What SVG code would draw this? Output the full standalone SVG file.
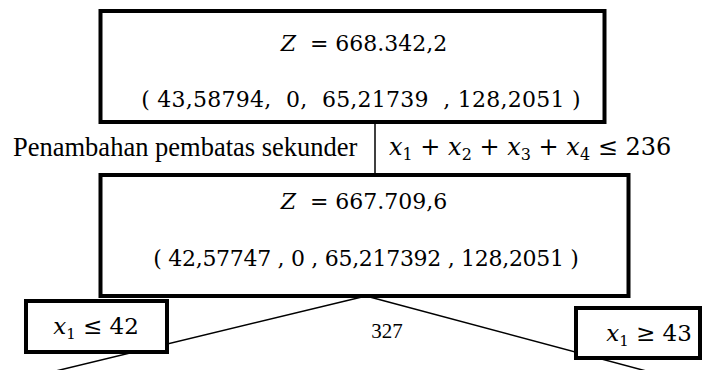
<svg xmlns="http://www.w3.org/2000/svg" width="705" height="370" viewBox="0 0 705 370">
<style>
.box{fill:#fff;stroke:#000;stroke-width:4}
.ln{stroke:#000;stroke-width:1.5;fill:none}
.m{font-family:'DejaVu Serif','Liberation Serif',serif;font-size:22px;fill:#000}
.t{font-family:'Liberation Serif','Times New Roman',serif;fill:#000}
.i{font-style:italic}
.sub{font-size:15px}
</style>
<rect width="705" height="370" fill="#fff"/>
<g id="connectors">
<line class="ln" x1="375" y1="122" x2="375" y2="175"/>
<line class="ln" x1="366" y1="296" x2="35" y2="376"/>
<line class="ln" x1="366" y1="296" x2="650" y2="372"/>
</g>
<g id="root">
<rect class="box" x="100.5" y="11" width="504" height="111"/>
<text class="m" x="364" y="51" text-anchor="middle" xml:space="preserve"><tspan class="i">Z</tspan>  = 668.342,2</text>
<text class="m" x="361" y="107" text-anchor="middle" letter-spacing="0.25" xml:space="preserve">( 43,58794,  0,  65,21739  , 128,2051 )</text>
</g>
<g id="constraint">
<text class="t" x="13" y="156" font-size="26.5">Penambahan pembatas sekunder</text>
<text class="m" x="389" y="155" style="font-size:24px"><tspan class="i">x</tspan><tspan font-size="16" dy="5">1</tspan><tspan dy="-5"> + </tspan><tspan class="i">x</tspan><tspan font-size="16" dy="5">2</tspan><tspan dy="-5"> + </tspan><tspan class="i">x</tspan><tspan font-size="16" dy="5">3</tspan><tspan dy="-5"> + </tspan><tspan class="i">x</tspan><tspan font-size="16" dy="5">4</tspan><tspan dy="-5"> ≤ 236</tspan></text>
</g>
<g id="node2">
<rect class="box" x="100.5" y="175" width="528" height="121"/>
<text class="m" x="364" y="209" text-anchor="middle" xml:space="preserve"><tspan class="i">Z</tspan>  = 667.709,6</text>
<text class="m" x="366" y="266" text-anchor="middle" letter-spacing="-0.3" xml:space="preserve">( 42,57747 , 0 , 65,217392 , 128,2051 )</text>
</g>
<g id="left">
<rect class="box" x="26" y="301" width="141" height="51"/>
<text class="m" x="96" y="334" text-anchor="middle" style="font-size:23px"><tspan class="i">x</tspan><tspan class="sub" dy="5">1</tspan><tspan dy="-5"> ≤ 42</tspan></text>
</g>
<g id="right">
<rect class="box" x="576" y="308" width="124" height="50"/>
<text class="m" x="649" y="341" text-anchor="middle" style="font-size:23px"><tspan class="i">x</tspan><tspan class="sub" dy="5">1</tspan><tspan dy="-5"> ≥ 43</tspan></text>
</g>
<text class="t" x="387" y="338" text-anchor="middle" font-size="21">327</text>
</svg>
